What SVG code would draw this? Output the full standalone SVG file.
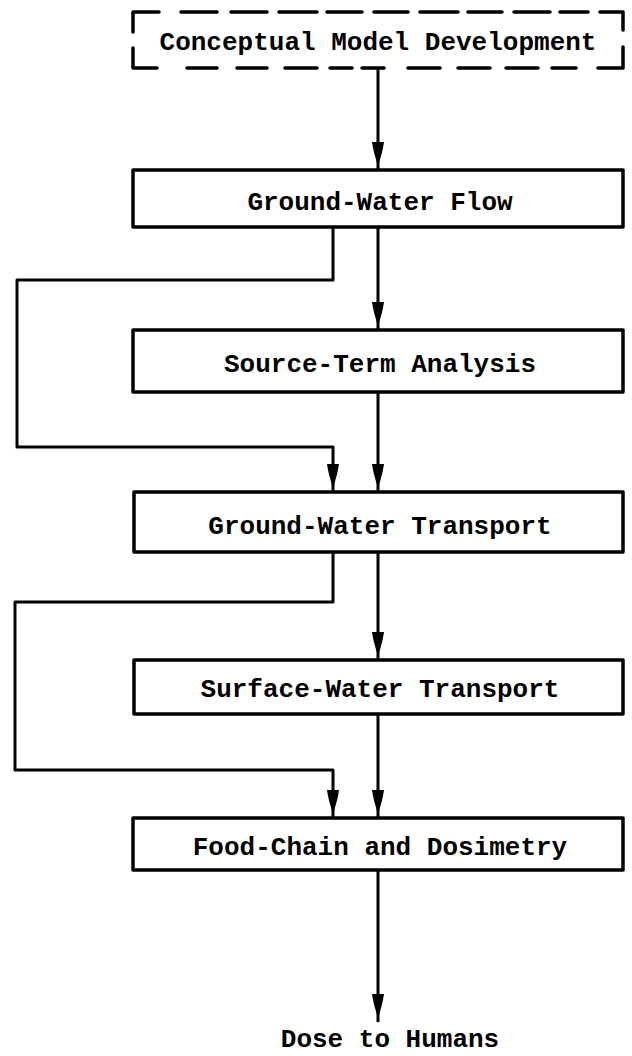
<svg xmlns="http://www.w3.org/2000/svg" width="632" height="1056" viewBox="0 0 632 1056">
<style>
.box{fill:#fff;stroke:#000;stroke-width:3.5;stroke-linejoin:round}
.dash{fill:none;stroke:#000;stroke-width:3.5;stroke-linecap:round;stroke-linejoin:round}
.conn{fill:none;stroke:#000;stroke-width:3;stroke-linejoin:round}
.lbl{font-family:"Liberation Mono","DejaVu Sans Mono",monospace;font-weight:bold;font-size:26px;fill:#000;text-anchor:middle}
</style>
<defs>
<marker id="ah" markerUnits="userSpaceOnUse" orient="auto" viewBox="0 -7 30 14" markerWidth="30" markerHeight="14" refX="28" refY="0">
<path d="M0,-6 C8,-5 16,-2.5 24,0 C16,2.5 8,5 0,6 Z" fill="#000"/>
</marker>
</defs>
<rect width="632" height="1056" fill="#fff"/>
<g id="connectors">
<path class="conn" d="M378,68 V170" marker-end="url(#ah)"/>
<path class="conn" d="M378,227 V330" marker-end="url(#ah)"/>
<path class="conn" d="M333,227 V280 H17 V447 H333 V492" marker-end="url(#ah)"/>
<path class="conn" d="M378,392 V492" marker-end="url(#ah)"/>
<path class="conn" d="M333,552 V602 H15 V770 H333 V818" marker-end="url(#ah)"/>
<path class="conn" d="M378,552 V660" marker-end="url(#ah)"/>
<path class="conn" d="M378,714 V818" marker-end="url(#ah)"/>
<path class="conn" d="M378,870 V1022" marker-end="url(#ah)"/>
</g>
<g id="conceptual-model">
<path class="dash" d="M133,32 V12 H159 M181,12 H217 M231,12 H267 M279,12 H317 M327,12 H362 M374,12 H408 M420,12 H458 M468,12 H502 M514,12 H550 M560,12 H588 M600,12 H623 V30 M623,47 V68 H598 M576,68 H552 M538,68 H506 M490,68 H458 M440,68 H408 M384,68 H362 M352,68 H330 M317,68 H285 M267,68 H237 M217,68 H187 M157,68 H133 V48"/>
<text class="lbl" x="378" y="50">Conceptual Model Development</text>
</g>
<g id="ground-water-flow">
<rect class="box" x="133" y="170" width="490" height="57"/>
<text class="lbl" x="380" y="210">Ground-Water Flow</text>
</g>
<g id="source-term-analysis">
<rect class="box" x="133" y="330" width="490" height="62"/>
<text class="lbl" x="380" y="372">Source-Term Analysis</text>
</g>
<g id="ground-water-transport">
<rect class="box" x="134" y="492" width="489" height="60"/>
<text class="lbl" x="380" y="534">Ground-Water Transport</text>
</g>
<g id="surface-water-transport">
<rect class="box" x="134" y="660" width="489" height="54"/>
<text class="lbl" x="380" y="697">Surface-Water Transport</text>
</g>
<g id="food-chain-dosimetry">
<rect class="box" x="133" y="818" width="490" height="52"/>
<text class="lbl" x="380" y="855">Food-Chain and Dosimetry</text>
</g>
<g id="dose-to-humans">
<text class="lbl" x="390" y="1047">Dose to Humans</text>
</g>
</svg>
